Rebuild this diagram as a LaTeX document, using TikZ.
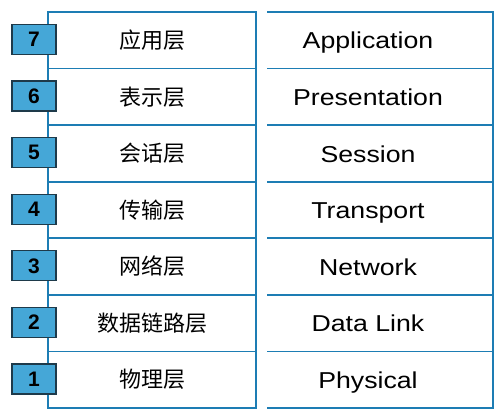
\documentclass[tikz,border=0pt]{standalone}
\usepackage{fontspec}
\newfontfamily\cjk{Noto Sans CJK SC}
\newfontfamily\enfont[FakeStretch=1.16]{Liberation Sans}
\newfontfamily\numfont{Liberation Sans}
\definecolor{frameblue}{HTML}{1D7DB4}
\definecolor{numfill}{HTML}{45A7D7}
\definecolor{numline}{HTML}{1E3A4A}
\tikzset{
  cncell/.style={draw=frameblue, line width=1.8pt, minimum width=208pt, minimum height=56.57pt, inner sep=0pt, font=\cjk\fontsize{22}{22}\selectfont},
  encell/.style={inner sep=0pt, anchor=base, yshift=-8.6pt, font=\enfont\fontsize{23}{23}\selectfont},
  numbox/.style={draw=numline, fill=numfill, line width=1.3pt, minimum width=44pt, minimum height=30pt, inner sep=0pt, font=\numfont\bfseries\fontsize{21}{21}\selectfont},
  frame/.style={draw=frameblue, line width=1.8pt}
}
\begin{document}
\begin{tikzpicture}[x=1pt, y=-1pt]
    \useasboundingbox (0,0) rectangle (503,416);
    % chinese column
    \node[cncell] (c7) at (152,40.29) {应用层};
    \node[cncell] (c6) at (152,96.86) {表示层};
    \node[cncell] (c5) at (152,153.43) {会话层};
    \node[cncell] (c4) at (152,210.0) {传输层};
    \node[cncell] (c3) at (152,266.57) {网络层};
    \node[cncell] (c2) at (152,323.14) {数据链路层};
    \node[cncell] (c1) at (152,379.71) {物理层};
    % english column
    \draw[frame] (267,12) -- (493,12) -- (493,408) -- (267,408);
    \foreach \y in {68.57,125.14,181.71,238.29,294.86,351.43}
        \draw[frame] (267,\y) -- (493,\y);
    \node[encell] (e7) at (368,40.29) {Application};
    \node[encell] (e6) at (368,96.86) {Presentation};
    \node[encell] (e5) at (368,153.43) {Session};
    \node[encell] (e4) at (368,210.0) {Transport};
    \node[encell] (e3) at (368,266.57) {Network};
    \node[encell] (e2) at (368,323.14) {Data Link};
    \node[encell] (e1) at (368,379.71) {Physical};
    % layer numbers
    \node[numbox] (n7) at (34,39.5) {7};
    \node[numbox] (n6) at (34,96.1) {6};
    \node[numbox] (n5) at (34,152.6) {5};
    \node[numbox] (n4) at (34,209.2) {4};
    \node[numbox] (n3) at (34,265.8) {3};
    \node[numbox] (n2) at (34,322.3) {2};
    \node[numbox] (n1) at (34,378.9) {1};
\end{tikzpicture}
\end{document}
